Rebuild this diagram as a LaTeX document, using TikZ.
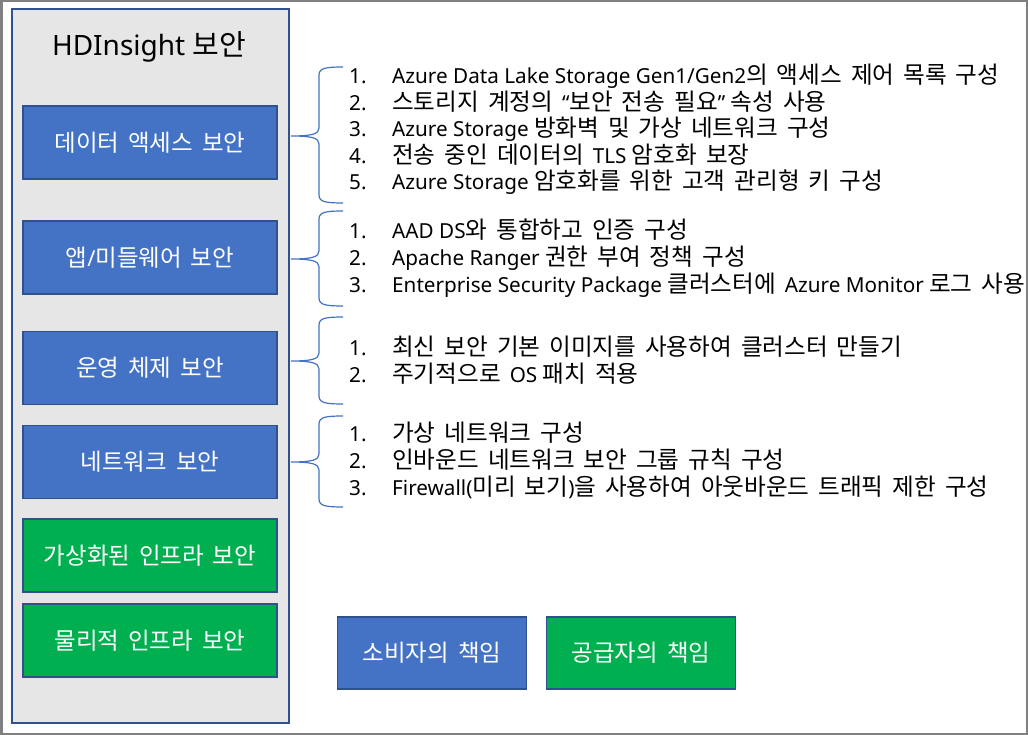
\documentclass[tikz,border=0pt]{standalone}
\usepackage{fontspec}
\setmainfont{Noto Sans}
\newfontfamily\latinfam{Noto Sans}
\newfontfamily\hangulfam[WordSpace=1.7]{Noto Sans CJK KR}
\newcommand\latinsz{20}
\newcommand\hangulsz{21}
\newcommand\latinfont{\fontsize{\latinsz}{\latinsz}\latinfam}
\newcommand\hangulfont{\fontsize{\hangulsz}{\hangulsz}\hangulfam}
\XeTeXinterchartokenstate=1
\newXeTeXintercharclass\HangulClass
\count255="AC00
\loop\XeTeXcharclass\count255=\HangulClass\relax\advance\count255 by 1\relax\ifnum\count255<"D7A4\repeat
\XeTeXcharclass"201C=0
\XeTeXcharclass"201D=0
\XeTeXcharclass`(=0
\XeTeXcharclass`)=0
\XeTeXinterchartoks 0 \HangulClass = {\hangulfont}
\XeTeXinterchartoks 4095 \HangulClass = {\hangulfont}
\XeTeXinterchartoks \HangulClass 0 = {\latinfont}
\XeTeXinterchartoks 4095 0 = {\latinfont}
\definecolor{boxblue}{HTML}{4472C4}
\definecolor{boxgreen}{HTML}{00B050}
\definecolor{edgeblue}{HTML}{2F528F}
\definecolor{panelgray}{HTML}{E6E6E6}
\definecolor{framegray}{HTML}{808080}
\begin{document}
\begin{tikzpicture}[x=1pt,y=-1pt,
  boxfont/.style={font={\def\latinsz{22}\def\hangulsz{23.5}\latinfont}},
  listfont/.style={font={\def\latinsz{20.7}\def\hangulsz{23.6}\latinfont}},
  layer/.style={draw=edgeblue,line width=1.5pt,minimum width=254pt,minimum height=73pt,inner sep=0pt,text=white,boxfont},
  cons/.style={layer,fill=boxblue},
  prov/.style={layer,fill=boxgreen},
  legendbox/.style={draw=edgeblue,line width=1.5pt,minimum width=189pt,minimum height=72pt,inner sep=0pt,text=white,boxfont},
  num/.style={anchor=base west,inner sep=0pt,listfont},
  item/.style={anchor=base west,inner sep=0pt,listfont},
  brace/.style={draw=boxblue,line width=1.2pt}
]
\useasboundingbox (0,0) rectangle (1028,735);
\fill[white] (0,0) rectangle (1028,735);
\draw[framegray,line width=2.5pt] (1.25,1.25) rectangle (1026.75,733.75);

% panel
\node[draw=edgeblue,fill=panelgray,line width=1.5pt,minimum width=277pt,minimum height=714pt,inner sep=0pt] (panel) at (150.5,366) {};
\node[font={\def\latinsz{28}\def\hangulsz{29}\latinfont}] (title) at (149,47) {HDInsight 보안};

\node[cons] (data) at (150,142.5) {데이터 액세스 보안};
\node[cons] (app) at (150,257.5) {앱/미들웨어 보안};
\node[cons] (os) at (150,368) {운영 체제 보안};
\node[cons] (net) at (150,462) {네트워크 보안};
\node[prov] (virt) at (150,555.5) {가상화된 인프라 보안};
\node[prov] (phys) at (150,640.5) {물리적 인프라 보안};

% braces
\newcommand{\mybrace}[3]{%
  \draw[brace] (343,#1) .. controls (326,#1) and (319,#1+1) .. (319,#1+8)
    -- (319,#2-8) .. controls (319,#2-2) and (312,#2) .. (291,#2)
    .. controls (312,#2) and (319,#2+2) .. (319,#2+8)
    -- (319,#3-8) .. controls (319,#3-1) and (326,#3) .. (343,#3);}
\mybrace{67}{136}{203}
\mybrace{211}{259}{306}
\mybrace{317}{361}{404}
\mybrace{416}{462}{507}

% list 1
\foreach \n/\yy/\t in {1/84/{Azure Data Lake Storage Gen1/Gen2의 액세스 제어 목록 구성},
  2/110.5/{스토리지 계정의 “보안 전송 필요” 속성 사용},
  3/137/{Azure Storage 방화벽 및 가상 네트워크 구성},
  4/163.5/{전송 중인 데이터의 TLS 암호화 보장},
  5/190/{Azure Storage 암호화를 위한 고객 관리형 키 구성}}{
  \node[num] (a\n) at (349,\yy) {\n.};
  \node[item] (at\n) at (392,\yy) {\t};
}
% list 2
\foreach \n/\yy/\t in {1/239/{AAD DS와 통합하고 인증 구성},
  2/266/{Apache Ranger 권한 부여 정책 구성},
  3/293/{Enterprise Security Package 클러스터에 Azure Monitor 로그 사용}}{
  \node[num] (b\n) at (349,\yy) {\n.};
  \node[item] (bt\n) at (392,\yy) {\t};
}
% list 3
\foreach \n/\yy/\t in {1/355/{최신 보안 기본 이미지를 사용하여 클러스터 만들기},
  2/382/{주기적으로 OS 패치 적용}}{
  \node[num] (c\n) at (349,\yy) {\n.};
  \node[item] (ct\n) at (392,\yy) {\t};
}
% list 4
\foreach \n/\yy/\t in {1/441/{가상 네트워크 구성},
  2/468/{인바운드 네트워크 보안 그룹 규칙 구성},
  3/495/{Firewall(미리 보기)을 사용하여 아웃바운드 트래픽 제한 구성}}{
  \node[num] (d\n) at (349,\yy) {\n.};
  \node[item] (dt\n) at (392,\yy) {\t};
}

% legend
\node[legendbox,fill=boxblue] (consumer) at (432,653) {소비자의 책임};
\node[legendbox,fill=boxgreen] (provider) at (641,653) {공급자의 책임};
\end{tikzpicture}
\end{document}
